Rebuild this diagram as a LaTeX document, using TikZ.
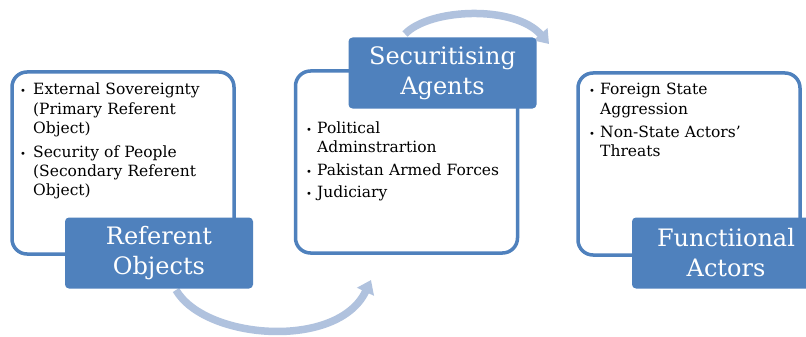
\documentclass[tikz,border=0pt]{standalone}
\usepackage{fontspec}
\setmainfont{DejaVu Serif}
\usetikzlibrary{arrows.meta}
\definecolor{mainblue}{HTML}{4F81BD}
\definecolor{arrowblue}{HTML}{B0C2DE}
\tikzset{
  outlinebox/.style={draw=mainblue, line width=3.5pt, fill=white, rounded corners=15pt,
    minimum width=222pt, minimum height=182pt, inner sep=0pt},
  labelbox/.style={fill=mainblue, rounded corners=4pt, text=white, align=center,
    minimum width=188pt, minimum height=71pt, inner sep=0pt,
    font={\fontsize{24}{30}\selectfont}},
  itemtext/.style={anchor=base west, inner sep=0pt, text width=210pt, align=left,
    font={\fontsize{15.5}{19.5}\selectfont}},
  bulletmark/.style={anchor=base, inner sep=0pt, font={\fontsize{10}{10}\selectfont}},
  arcarrow/.style={draw=arrowblue, line width=7.5pt,
    -{Triangle[width=18pt,length=13pt]}}
}
\begin{document}
\begin{tikzpicture}[x=1pt,y=-1pt]
\path[use as bounding box] (0,0) rectangle (806,337);
\clip (0,0) rectangle (806,337);
\fill[white] (0,0) rectangle (806,337);

% arc arrows (behind)
\coordinate (arr1s) at (176,290);
\coordinate (arr1e) at (371,280);
\coordinate (arr2s) at (405,34);
\coordinate (arr2e) at (549,44);
\draw[arcarrow] (arr1s) .. controls (205,340) and (338,350) .. (arr1e);
\draw[arcarrow] (arr2s) .. controls (430,8) and (515,5) .. (arr2e);

% outline boxes
\node[outlinebox] (box1) at (123,163) {};
\node[outlinebox] (box2) at (406.5,162) {};
\node[outlinebox] (box3) at (689,164) {};

% label boxes
\node[labelbox] (lab1) at (159,253) {Referent\\Objects};
\node[labelbox] (lab2) at (442.5,73) {Securitising\\Agents};
\node[labelbox] (lab3) at (726,253) {Functiional\\Actors};

% box 1 items
\node[bulletmark] (b11) at (23,95) {•};
\node[itemtext] (t11) at (33,95) {External Sovereignty\\(Primary Referent\\Object)};
\node[bulletmark] (b12) at (23,157) {•};
\node[itemtext] (t12) at (33,157) {Security of People\\(Secondary Referent\\Object)};

% box 2 items
\node[bulletmark] (b21) at (309,133) {•};
\node[itemtext] (t21) at (317,133) {Political\\Adminstrartion};
\node[bulletmark] (b22) at (309,175) {•};
\node[itemtext] (t22) at (317,175) {Pakistan Armed Forces};
\node[bulletmark] (b23) at (309,197) {•};
\node[itemtext] (t23) at (317,197) {Judiciary};

% box 3 items
\node[bulletmark] (b31) at (592,95) {•};
\node[itemtext] (t31) at (600,95) {Foreign State\\Aggression};
\node[bulletmark] (b32) at (592,137) {•};
\node[itemtext] (t32) at (600,137) {Non-State Actors'\\Threats};
\end{tikzpicture}
\end{document}
